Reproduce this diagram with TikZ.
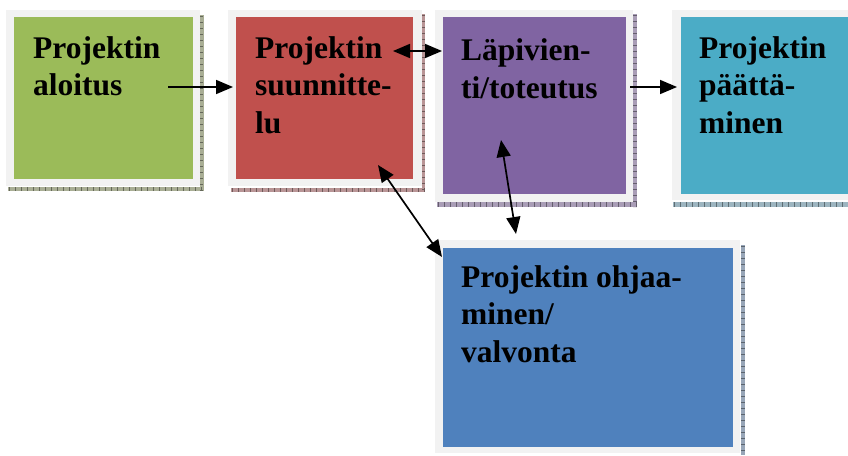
\documentclass[tikz,border=0pt]{standalone}
\usepackage{fontspec}
\setmainfont{Liberation Serif}
\usetikzlibrary{arrows.meta}
\definecolor{cgreen}{HTML}{9BBB59}
\definecolor{cred}{HTML}{C0504D}
\definecolor{cpurple}{HTML}{8064A2}
\definecolor{ccyan}{HTML}{4BACC6}
\definecolor{cblue}{HTML}{4F81BD}
\definecolor{frame}{HTML}{F2F2F2}
\definecolor{sgreen}{HTML}{A9AE95}
\definecolor{sred}{HTML}{B99596}
\definecolor{spurple}{HTML}{A99DB6}
\definecolor{scyan}{HTML}{9DB5C0}
\definecolor{sblue}{HTML}{98A6B8}
\tikzset{
  inner/.style={anchor=north west, inner sep=0pt, outer sep=0pt, draw=none},
  label/.style={anchor=north west, inner sep=0pt, align=left, font=\bfseries\fontsize{31.5}{37.8}\selectfont},
  tip/.tip={Triangle[length=17pt,width=14pt]},
  conn/.style={line width=1.7pt, -tip},
  conn2/.style={line width=1.7pt, tip-tip},
  tick/.style={line width=#1, dash pattern=on 0.7pt off 5.3pt},
}
\begin{document}
\begin{tikzpicture}[x=1pt,y=-1pt]
\useasboundingbox (0,0) rectangle (848,455);
\fill[white] (0,0) rectangle (848,455);

% shadows
\fill[sgreen] (200,15) rectangle (203.5,191);
\fill[sgreen] (8,187) rectangle (203.5,191);
\draw[sgreen!60!black, tick=3.5pt] (201.7,16) -- (201.7,191);
\draw[sgreen!60!black, tick=4pt] (9,189) -- (203,189);

\fill[sred] (422,14) rectangle (425,191.5);
\fill[sred] (231,188) rectangle (425,191.5);
\draw[sred!60!black, tick=3pt] (423.5,15) -- (423.5,191);
\draw[sred!60!black, tick=3.5pt] (232,189.8) -- (425,189.8);

\fill[spurple] (633,14) rectangle (637,207);
\fill[spurple] (437,202) rectangle (637,207);
\draw[spurple!60!black, tick=4pt] (635,15) -- (635,207);
\draw[spurple!60!black, tick=5pt] (438,204.5) -- (637,204.5);

\fill[scyan] (673,202) rectangle (848,207);
\draw[scyan!60!black, tick=5pt] (674,204.5) -- (848,204.5);

\fill[sblue] (741,245) rectangle (745,455);
\draw[sblue!60!black, tick=4pt] (743,246) -- (743,455);

% frames
\fill[frame] (6,10) rectangle (200,186);
\fill[frame] (228,10) rectangle (422,186);
\fill[frame] (435,10) rectangle (633,202);
\fill[frame] (672,10) rectangle (848,200);
\fill[frame] (435,240) rectangle (740,453);

% coloured boxes
\node[inner, fill=cgreen, minimum width=179pt, minimum height=162pt] (b1) at (14,17) {};
\node[inner, fill=cred, minimum width=177pt, minimum height=162pt] (b2) at (236,17) {};
\node[inner, fill=cpurple, minimum width=183pt, minimum height=177pt] (b3) at (443,17) {};
\node[inner, fill=ccyan, minimum width=167pt, minimum height=177pt] (b4) at (681,17) {};
\node[inner, fill=cblue, minimum width=290pt, minimum height=199pt] (b5) at (443,248) {};

% texts (top = baseline - 0.7*baselineskip)
\node[label] (t1) at (33,31.5) {\strut Projektin\\aloitus};
\node[label] (t2) at (255,31.5) {\strut Projektin\\suunnitte-\\lu};
\node[label] (t3) at (461,34) {\strut Läpivien-\\ti/toteutus};
\node[label] (t4) at (699,31.5) {\strut Projektin\\päättä-\\minen};
\node[label] (t5) at (461,260.5) {\strut Projektin ohjaa-\\minen/\\valvonta};

% connector endpoints
\coordinate (a1s) at (168,87);
\coordinate (a1e) at (233,87);
\coordinate (a2s) at (393,51);
\coordinate (a2e) at (442,51);
\coordinate (a3s) at (630,87);
\coordinate (a3e) at (677,87);
\coordinate (a4s) at (378,165);
\coordinate (a4e) at (442,257);
\coordinate (a5s) at (501,140);
\coordinate (a5e) at (516,234);

\draw[conn] (a1s) -- (a1e);
\draw[conn2] (a2s) -- (a2e);
\draw[conn] (a3s) -- (a3e);
\draw[conn2] (a4s) -- (a4e);
\draw[conn2] (a5s) -- (a5e);
\end{tikzpicture}
\end{document}
